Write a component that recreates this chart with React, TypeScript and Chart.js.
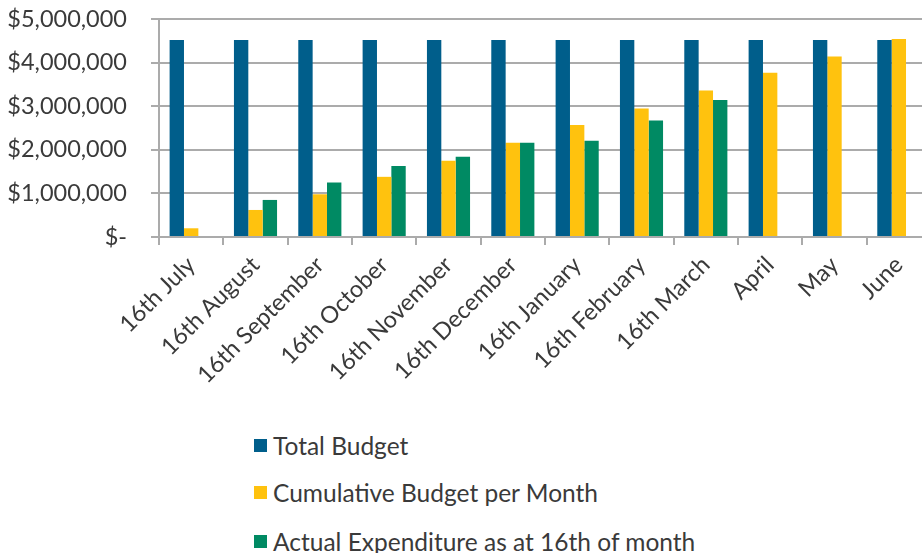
import React, { useEffect, useRef } from "react";
import { Chart, registerables } from "chart.js";

Chart.register(...registerables);

const categories = [
  "16th July",
  "16th August",
  "16th September",
  "16th October",
  "16th November",
  "16th December",
  "16th January",
  "16th February",
  "16th March",
  "April",
  "May",
  "June",
];

const totalBudget = [
  4520000, 4520000, 4520000, 4520000, 4520000, 4520000,
  4520000, 4520000, 4520000, 4520000, 4520000, 4520000,
];

const cumulativeBudget = [
  200000, 620000, 980000, 1380000, 1750000, 2160000,
  2570000, 2950000, 3360000, 3770000, 4140000, 4540000,
];

const actualExpenditure = [
  null, 850000, 1250000, 1630000, 1840000, 2160000,
  2210000, 2670000, 3140000, null, null, null,
];

const seriesNames = [
  "Total Budget",
  "Cumulative Budget per Month",
  "Actual Expenditure as at 16th of month",
];
const seriesColors = ["#005E8B", "#FFC20E", "#008A63"];

const yTicks = [0, 1000000, 2000000, 3000000, 4000000, 5000000];

const FONT = "Lato, 'Open Sans', sans-serif";
const TEXT = "#3a3a3a";
const GRID = "#ababab";

export default function App() {
  const ref = useRef<HTMLCanvasElement | null>(null);

  useEffect(() => {
    if (!ref.current) return;
    const chart = new Chart(ref.current, {
      type: "bar",
      data: {
        labels: categories,
        datasets: [
          { label: seriesNames[0], data: totalBudget, backgroundColor: seriesColors[0] },
          { label: seriesNames[1], data: cumulativeBudget, backgroundColor: seriesColors[1] },
          { label: seriesNames[2], data: actualExpenditure as any, backgroundColor: seriesColors[2] },
        ],
      },
      options: {
        responsive: false,
        animation: false,
        devicePixelRatio: 1,
        layout: { padding: { top: 19, right: 9, left: 0, bottom: 0 } },
        datasets: { bar: { categoryPercentage: 0.67, barPercentage: 1.0 } },
        plugins: {
          legend: { display: false },
          tooltip: { enabled: false },
        },
        scales: {
          x: {
            grid: {
              display: true,
              drawOnChartArea: false,
              drawTicks: true,
              tickLength: 8,
              color: GRID,
              lineWidth: 2,
              offset: true,
            },
            border: { display: true, color: GRID, width: 2 },
            ticks: {
              autoSkip: false,
              maxRotation: 45,
              minRotation: 45,
              padding: 6,
              color: TEXT,
              font: { family: FONT, size: 23.5 },
            },
            afterFit: (scale: any) => {
              scale.height = 183;
            },
          },
          y: {
            min: 0,
            max: 5000000,
            afterBuildTicks: (scale: any) => {
              scale.ticks = yTicks.map((v) => ({ value: v }));
            },
            grid: {
              color: GRID,
              lineWidth: 2,
              tickLength: 8,
              drawTicks: true,
            },
            border: { display: true, color: GRID, width: 2 },
            ticks: {
              padding: 24,
              color: TEXT,
              font: { family: FONT, size: 23.5 },
              callback: (v: any) =>
                Number(v) === 0 ? "$-" : "$" + Number(v).toLocaleString("en-US"),
            },
            afterFit: (scale: any) => {
              scale.width = 159;
              scale.paddingTop = 0;
              scale.paddingBottom = 0;
            },
          },
        },
      },
    });
    return () => chart.destroy();
  }, []);

  const legendTops = [445, 492, 541];

  return (
    <div
      style={{
        position: "absolute",
        left: 0,
        top: 0,
        width: 922,
        height: 553,
        overflow: "hidden",
        background: "#fff",
      }}
    >
      <canvas ref={ref} width={940} height={420} style={{ display: "block", width: 940, height: 420 }} />
      {seriesNames.map((name, i) => (
        <div
          key={name}
          style={{
            position: "absolute",
            left: 254,
            top: legendTops[i] - 15,
            height: 30,
            display: "flex",
            alignItems: "center",
            fontFamily: FONT,
            fontSize: 24.5,
            color: TEXT,
            whiteSpace: "nowrap",
          }}
        >
          <span
            style={{
              display: "inline-block",
              width: 13,
              height: 13,
              background: seriesColors[i],
              marginRight: 6,
            }}
          />
          <span>{name}</span>
        </div>
      ))}
    </div>
  );
}
